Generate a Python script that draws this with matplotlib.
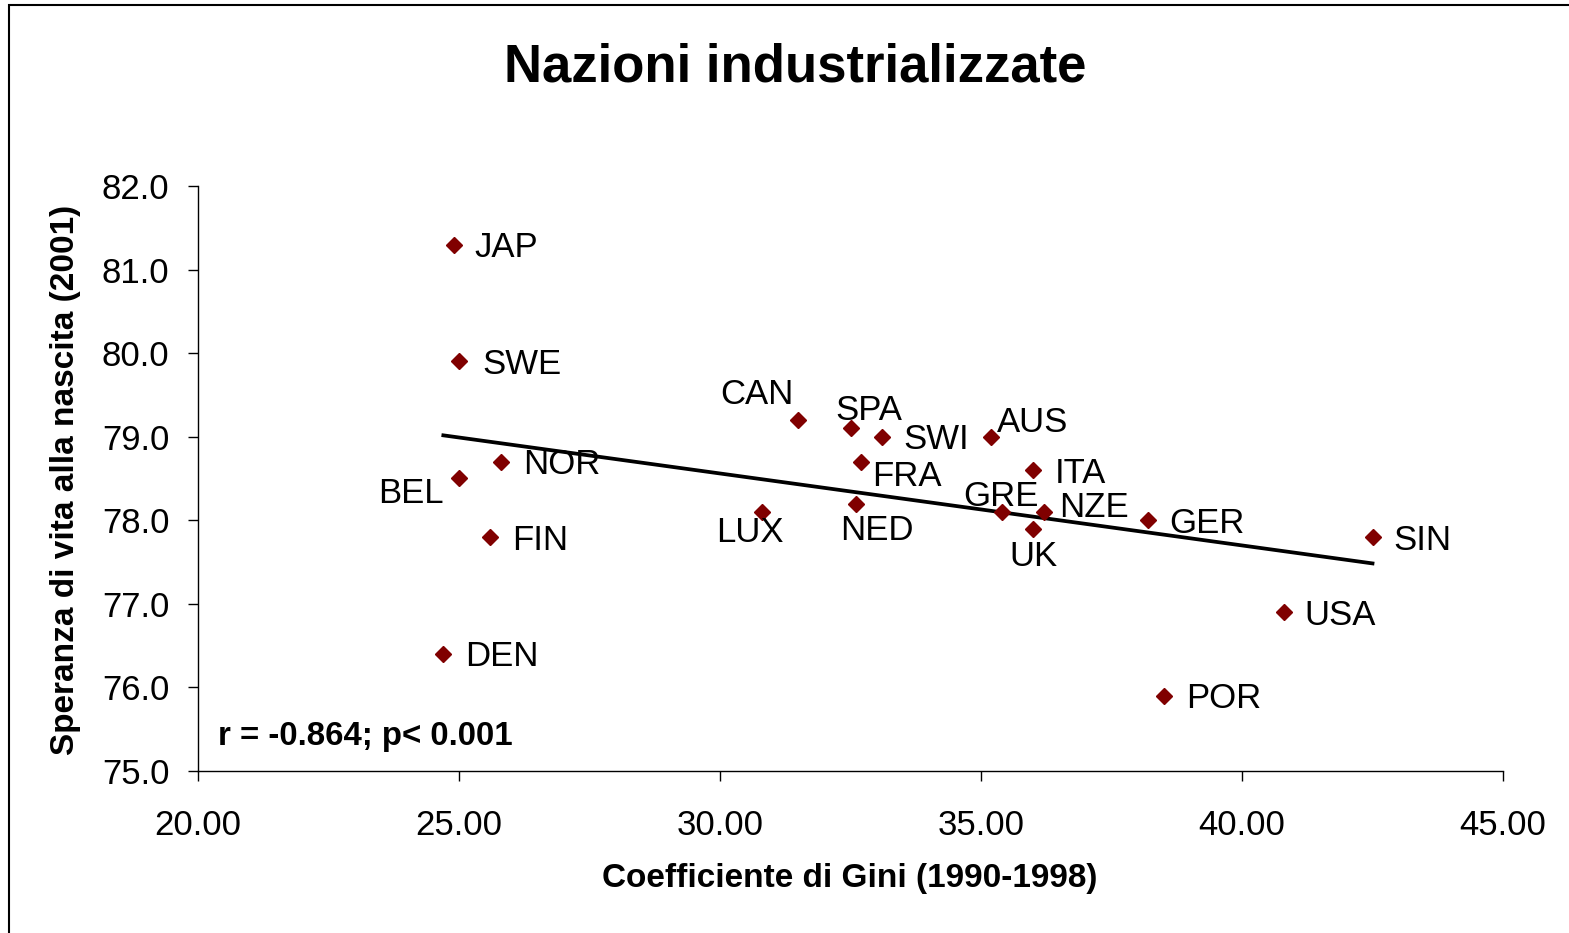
import matplotlib
matplotlib.use("Agg")
import matplotlib.pyplot as plt
import matplotlib.patches as mpatches
import numpy as np

plt.rcParams["font.family"] = ["Liberation Sans", "DejaVu Sans"]

# data
countries = ["JAP", "SWE", "NOR", "BEL", "FIN", "DEN", "CAN", "SPA", "SWI", "FRA",
             "LUX", "NED", "AUS", "ITA", "GRE", "NZE", "UK", "GER", "SIN", "USA", "POR"]
gini = [24.9, 25.0, 25.8, 25.0, 25.6, 24.7, 31.5, 32.5, 33.1, 32.7,
        30.8, 32.6, 35.2, 36.0, 35.4, 36.2, 36.0, 38.2, 42.5, 40.8, 38.5]
life = [81.3, 79.9, 78.7, 78.5, 77.8, 76.4, 79.2, 79.1, 79.0, 78.7,
        78.1, 78.2, 79.0, 78.6, 78.1, 78.1, 77.9, 78.0, 77.8, 76.9, 75.9]

x_ticks = [20, 25, 30, 35, 40, 45]
y_ticks = [75, 76, 77, 78, 79, 80, 81, 82]

# label placement (offset in pixels, horizontal alignment)
label_pos = {
    "JAP": (21, 0, "left"), "SWE": (23, 0, "left"), "NOR": (22, 0, "left"),
    "BEL": (-15, -12, "right"), "FIN": (22, 0, "left"), "DEN": (22, 0, "left"),
    "CAN": (-41, 28, "center"), "SPA": (18, 21, "center"), "SWI": (22, 0, "left"),
    "FRA": (11, -12, "left"), "LUX": (-12, -18, "center"), "NED": (21, -24, "center"),
    "AUS": (5, 17, "left"), "ITA": (22, 0, "left"), "GRE": (-1, 18, "center"),
    "NZE": (15, 7, "left"), "UK": (0, -25, "center"), "GER": (21, 0, "left"),
    "SIN": (21, 0, "left"), "USA": (21, 0, "left"), "POR": (22, 0, "left"),
}

W, H = 1569, 933
fig = plt.figure(figsize=(W / 100, H / 100), dpi=100)
ax = fig.add_axes([198 / W, 1 - 771 / H, (1503 - 198) / W, (771 - 186) / H])

# figure frame (top and left edges visible)
fig.add_artist(mpatches.Rectangle((9 / W, -0.1), 1.1, 1.1 - 5 / H, transform=fig.transFigure,
                                  fill=False, edgecolor="black", lw=1.5))

ax.plot(gini, life, "D", color="#800000", ms=8, zorder=3)

# regression line
coef = np.polyfit(gini, life, 1)
xs = np.array([min(gini), max(gini)])
ax.plot(xs, np.polyval(coef, xs), color="black", lw=2.7, zorder=2)

for name, gx, ly in zip(countries, gini, life):
    dx, dy, ha = label_pos[name]
    ax.annotate(name, (gx, ly), xytext=(dx * 0.72, (dy - 3) * 0.72), textcoords="offset points",
                ha=ha, va="center", fontsize=25)

ax.set_xlim(20, 45)
ax.set_ylim(75, 82)
ax.set_xticks(x_ticks)
ax.set_yticks(y_ticks)
ax.set_xticklabels([f"{v:.2f}" for v in x_ticks])
ax.set_yticklabels([f"{v:.1f}" for v in y_ticks])
ax.tick_params(direction="out", length=7.5, width=1, labelsize=25)
ax.tick_params(axis="x", pad=20)
ax.tick_params(axis="y", pad=13)
for s in ["top", "right"]:
    ax.spines[s].set_visible(False)
for s in ["left", "bottom"]:
    ax.spines[s].set_linewidth(1)

fig.text(218 / W, 1 - 736 / H, "r = -0.864; p< 0.001",
         fontsize=23.8, fontweight="bold", va="center", ha="left")

fig.text(795 / W, 1 - 68 / H, "Nazioni industrializzate", fontsize=38, fontweight="bold",
         ha="center", va="center")
fig.text(850 / W, 1 - 878 / H, "Coefficiente di Gini (1990-1998)", fontsize=24,
         fontweight="bold", ha="center", va="center")
fig.text(66 / W, 1 - 480 / H, "Speranza di vita alla nascita (2001)", fontsize=24,
         fontweight="bold", ha="center", va="center", rotation=90)

fig.savefig("out.png", dpi=100)
